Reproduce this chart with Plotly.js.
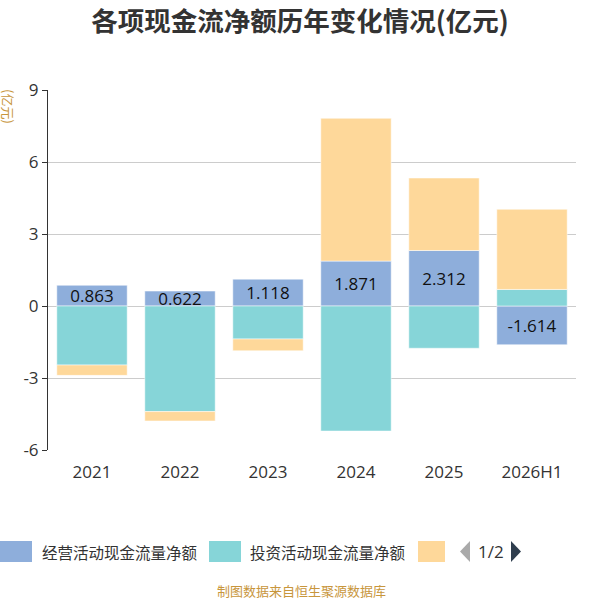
<!DOCTYPE html>
<html>
<head>
<meta charset="utf-8">
<script src="https://cdn.plot.ly/plotly-3.0.1.min.js"></script>
<style>html,body{margin:0;padding:0;background:#fff;}#chart{width:600px;height:600px;}</style>
</head>
<body>
<div id="chart"></div>
<script>
// ---- data ----
var categories = ['2021', '2022', '2023', '2024', '2025', '2026H1'];
var operating = [0.863, 0.622, 1.118, 1.871, 2.312, -1.614];
var investing = [-2.46, -4.40, -1.375, -5.21, -1.76, 0.69];
var financing = [-0.43, -0.39, -0.49, 5.95, 3.02, 3.34];
var seriesNames = ['经营活动现金流量净额', '投资活动现金流量净额', '筹资活动现金流量净额'];
var yTicks = [-6, -3, 0, 3, 6, 9];

var colors = ['#8eaedb', '#86d5d8', '#fed89a'];
var FONT = 'Open Sans, Noto Sans CJK SC, sans-serif';
var CJK = 'Noto Sans CJK SC, sans-serif';

// plot area in pixels
var L = 48, R = 24, T = 90, B = 150, W = 600 - L - R, H = 600 - T - B;
function px(x) { return (x - L) / W; }
function py(y) { return (600 - B - y) / H; }

var traces = [
  {type: 'bar', name: seriesNames[0], x: categories, y: operating,
   marker: {color: colors[0], line: {color: '#ffffff', width: 0.5}},
   text: operating.map(function (v) { return v.toFixed(3); }),
   textposition: 'inside', insidetextanchor: 'middle', constraintext: 'none',
   textfont: {family: FONT, size: 17, color: '#111'}, showlegend: false},
  {type: 'bar', name: seriesNames[1], x: categories, y: investing,
   marker: {color: colors[1], line: {color: '#ffffff', width: 0.5}}, showlegend: false},
  {type: 'bar', name: seriesNames[2], x: categories, y: financing,
   marker: {color: colors[2], line: {color: '#ffffff', width: 0.5}}, showlegend: false}
];

var shapes = [];
var annotations = [];
// custom legend (first page)
var legendItems = [
  {sx: 0, label: seriesNames[0], tx: 40, c: colors[0], w: 32},
  {sx: 209, label: seriesNames[1], tx: 248, c: colors[1], w: 32},
  {sx: 418, label: null, tx: 0, c: colors[2], w: 27}
];
legendItems.forEach(function (it) {
  shapes.push({type: 'rect', xref: 'paper', yref: 'paper',
    x0: px(it.sx), x1: px(it.sx + it.w), y0: py(562), y1: py(541),
    fillcolor: it.c, line: {width: 0}});
  if (it.label) {
    annotations.push({xref: 'paper', yref: 'paper', x: px(it.tx), y: py(551.5),
      xanchor: 'left', yanchor: 'middle', showarrow: false, text: it.label,
      font: {family: CJK, size: 15.5, color: '#333'}});
  }
});
// pager
shapes.push({type: 'path', xref: 'paper', yref: 'paper',
  path: 'M' + px(470) + ',' + py(541) + ' L' + px(460) + ',' + py(551.5) + ' L' + px(470) + ',' + py(562) + ' Z',
  fillcolor: '#aaaaaa', line: {width: 0}});
shapes.push({type: 'path', xref: 'paper', yref: 'paper',
  path: 'M' + px(511) + ',' + py(541) + ' L' + px(521) + ',' + py(551.5) + ' L' + px(511) + ',' + py(562) + ' Z',
  fillcolor: '#2f3e4e', line: {width: 0}});
annotations.push({xref: 'paper', yref: 'paper', x: px(490.5), y: py(551.5),
  xanchor: 'center', yanchor: 'middle', showarrow: false, text: '1/2',
  font: {family: FONT, size: 17, color: '#333'}});
// y unit
annotations.push({xref: 'paper', yref: 'paper', x: px(8), y: py(106),
  xanchor: 'center', yanchor: 'middle', showarrow: false, text: '(亿元)', textangle: 90,
  font: {family: CJK, size: 13, color: '#c8963c'}});
// source
annotations.push({xref: 'paper', yref: 'paper', x: px(301), y: py(590),
  xanchor: 'center', yanchor: 'middle', showarrow: false, text: '制图数据来自恒生聚源数据库',
  borderpad: 0, font: {family: CJK, size: 13, color: '#c8963c'}});

var layout = {
  width: 600, height: 600,
  margin: {l: L, r: R, t: T, b: B, pad: 0},
  paper_bgcolor: '#ffffff', plot_bgcolor: '#ffffff',
  barmode: 'relative', bargap: 0.2,
  title: {text: '<b>各项现金流净额历年变化情况(亿元)</b>', x: 300 / 600, xref: 'container', xanchor: 'center',
    y: 1 - 22 / 600, yref: 'container', yanchor: 'middle',
    font: {family: CJK, size: 26.5, color: '#333'}},
  showlegend: false,
  xaxis: {type: 'category', showline: false, ticks: '', showgrid: false, zeroline: false,
    ticklabelstandoff: 10,
    tickfont: {family: FONT, size: 17, color: '#333'}, fixedrange: true},
  xaxis2: {overlaying: 'x', anchor: 'free', position: 0.4, range: [-0.5, 5.5], type: 'linear',
    showline: true, linecolor: '#333', linewidth: 1, ticks: 'outside', ticklen: 5, tickcolor: '#333',
    tickvals: [-0.5, 0.5, 1.5, 2.5, 3.5, 4.5, 5.5], showticklabels: false, showgrid: false, zeroline: false},
  yaxis: {range: [-6, 9], tickvals: yTicks, ticktext: yTicks.map(String),
    showline: true, linecolor: '#333', linewidth: 1, ticks: 'outside', ticklen: 5, tickcolor: '#333',
    gridcolor: '#cccccc', gridwidth: 1, zeroline: false,
    tickfont: {family: FONT, size: 17, color: '#333'}},
  shapes: shapes,
  annotations: annotations
};

Plotly.newPlot('chart', traces, layout, {displayModeBar: false, staticPlot: true});
</script>
</body>
</html>
